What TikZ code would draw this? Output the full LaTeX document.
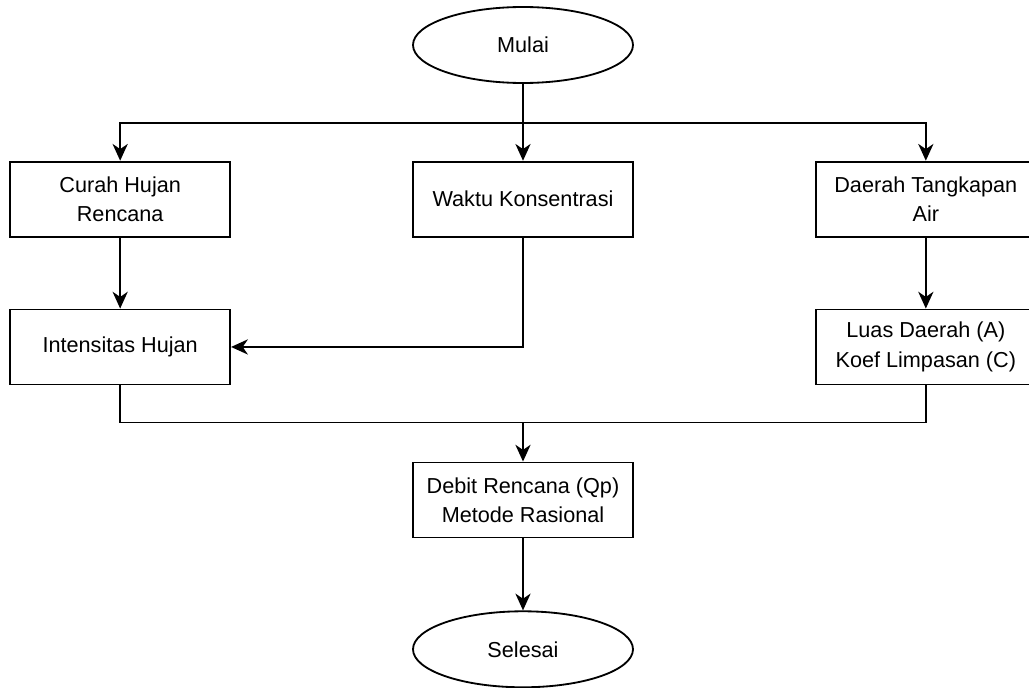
\documentclass[tikz,border=0pt]{standalone}
\usepackage{fontspec}
\setmainfont{Liberation Sans}
\usepackage{tikz}
\usetikzlibrary{arrows.meta,positioning,shapes.geometric}
\tikzset{
  proc/.style={draw=black, line width=1.3pt, fill=white, align=center,
               minimum width=5.5cm, minimum height=1.875cm, inner sep=2pt,
               font=\fontsize{15.4}{20.8}\selectfont},
  term/.style={proc, ellipse, minimum width=5.5cm, minimum height=1.9cm},
  flow/.style={-{Stealth[length=4.2mm, width=3.8mm, inset=1.3mm]}, line width=1.3pt, draw=black},
  bus/.style={line width=1.3pt, draw=black},
}
\begin{document}
\begin{tikzpicture}
  \useasboundingbox (-13.075,1.125) rectangle (12.65,-16.05);
  \node[term] (mulai) at (0,0) {Mulai};
  \node[proc, below=1.92cm of mulai] (waktu) {Waktu Konsentrasi};
  \node[proc, left=4.525cm of waktu] (curah) {Curah Hujan\\Rencana};
  \node[proc, right=4.525cm of waktu] (daerah) {Daerah Tangkapan\\Air};
  \node[proc, below=1.775cm of curah] (intens) {Intensitas Hujan};
  \node[proc, below=1.775cm of daerah] (luas) {Luas Daerah (A)\\Koef Limpasan (C)};
  \node[proc, below=5.6cm of waktu] (debit) {Debit Rencana (Qp)\\Metode Rasional};
  \node[term, below=1.8cm of debit] (selesai) {Selesai};
  % branch points
  \coordinate[below=0.975cm of mulai.south] (split);
  \coordinate[above=0.975cm of debit.north] (merge);
  \draw[flow] (mulai) -- (waktu);
  \draw[flow] (split) -| (curah);
  \draw[flow] (split) -| (daerah);
  \draw[flow] (curah) -- (intens);
  \draw[flow] (daerah) -- (luas);
  \draw[flow] (waktu.south) |- (intens.east);
  \draw[bus] (intens.south) |- (merge) -| (luas.south);
  \draw[flow] (merge) -- (debit);
  \draw[flow] (debit) -- (selesai);
\end{tikzpicture}
\end{document}
